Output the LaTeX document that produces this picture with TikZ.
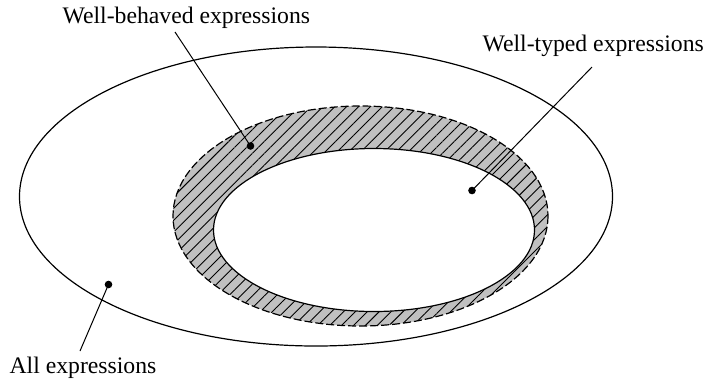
\documentclass[tikz,border=0pt]{standalone}
\usepackage{fontspec}
\setmainfont{Liberation Serif}
\usetikzlibrary{patterns.meta}
\definecolor{bandgray}{RGB}{192,192,192}
\tikzset{
  exprset/.style={x=0.5pt,y=-0.5pt,line width=0.6pt,font=\fontsize{11.85}{14}\selectfont},
  dot/.style={circle,fill,inner sep=0pt,minimum size=3.8pt},
  lbl/.style={anchor=base west,inner sep=0pt}
}

\begin{document}
\begin{tikzpicture}[exprset]
    \useasboundingbox (0,0) rectangle (712,382);
    % all expressions
    \draw (316,196.5) ellipse [x radius=296.5, y radius=149.5];
    % well-behaved band
    \fill[bandgray] (360.5,216) ellipse [x radius=187.5, y radius=110];
    \path[pattern={Lines[angle=45,distance=4.2pt,line width=0.45pt]}] (360.5,216) ellipse [x radius=187.5, y radius=110];
    \draw[dash pattern=on 4pt off 1.5pt] (360.5,216) ellipse [x radius=187.5, y radius=110];
    % well-typed
    \draw[fill=white] (374,230) ellipse [x radius=160.5, y radius=81.5];
    \node[lbl] (behaved) at (62,23.5) {Well-behaved expressions};
    \node[lbl] (typed) at (482,51) {Well-typed expressions};
    \node[lbl] (all) at (9,373) {All expressions};
    \coordinate (behavedtip) at (175,32);
    \coordinate (typedtip) at (592,67);
    \coordinate (alltip) at (80,351);
    \node[dot] (behavedpt) at (250.5,146) {};
    \node[dot] (typedpt) at (472,190.5) {};
    \node[dot] (allpt) at (108.5,284.5) {};
    \draw[line width=0.5pt] (behavedpt.center) -- (behavedtip);
    \draw[line width=0.5pt] (typedpt.center) -- (typedtip);
    \draw[line width=0.5pt] (allpt.center) -- (alltip);
  \end{tikzpicture}
\end{document}
